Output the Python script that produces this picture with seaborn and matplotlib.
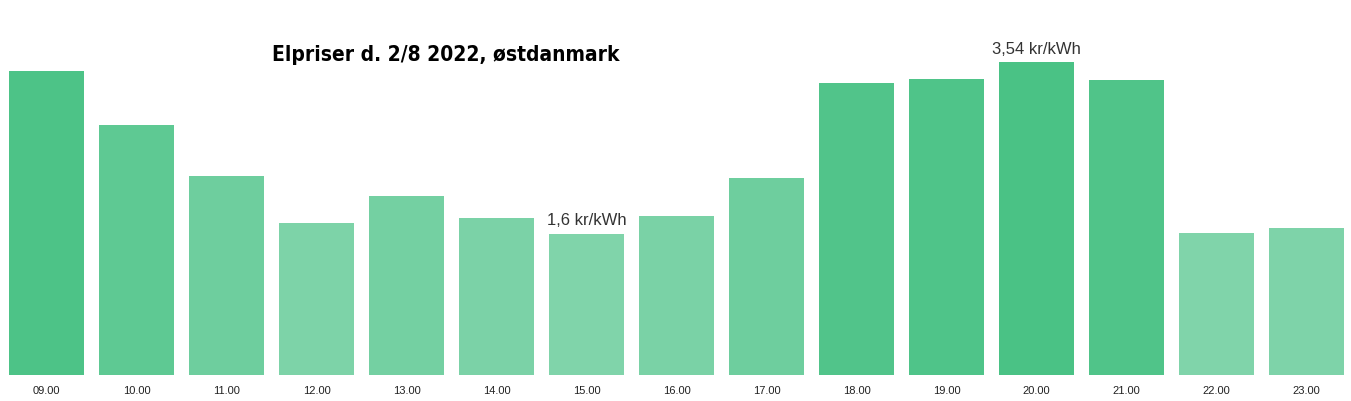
import numpy as np
import pandas as pd
import matplotlib.pyplot as plt
import matplotlib.colors as mcolors
import seaborn as sns

# Data
timer = ['09.00', '10.00', '11.00', '12.00', '13.00', '14.00', '15.00', '16.00',
         '17.00', '18.00', '19.00', '20.00', '21.00', '22.00', '23.00']
priser = [3.44, 2.83, 2.25, 1.72, 2.02, 1.78, 1.60, 1.80,
          2.23, 3.30, 3.35, 3.54, 3.34, 1.61, 1.66]

dados = pd.DataFrame({'time': timer, 'pris': priser})

# Farver: lys groen for lave priser, moerkere for hoeje
lys = np.array(mcolors.to_rgb('#80d4aa'))
moerk = np.array(mcolors.to_rgb('#4ac285'))
lo, hi = min(priser), max(priser)
farver = [mcolors.to_hex(lys + (p - lo) / (hi - lo) * (moerk - lys)) for p in priser]

sns.set_style('white')
fig = plt.figure(figsize=(13.51, 4.02), dpi=100)
ax = fig.add_axes([0.0011, 26 / 402, 0.9993, 353.6 / 402])

sns.barplot(data=dados, x='time', y='pris', hue='time', palette=farver,
            legend=False, width=0.833, saturation=1, linewidth=0, ax=ax)

ax.set_xlim(-0.5, 14.5)
ax.set_ylim(0, 4)
ax.set_xlabel('')
ax.set_ylabel('')
ax.set_yticks([])
ax.tick_params(axis='x', length=0, labelsize=8, labelcolor='#222222', pad=7)
for lbl in ax.get_xticklabels():
    lbl.set_family('Liberation Sans')
sns.despine(ax=ax, left=True, bottom=True)

# Etiketter for min og max
i_min = int(np.argmin(priser))
i_max = int(np.argmax(priser))
for i in (i_min, i_max):
    tekst = f"{priser[i]:g}".replace('.', ',') + ' kr/kWh'
    ax.text(i, priser[i] + 0.07, tekst, ha='center', va='bottom',
            fontsize=12, color='#333333', family='Liberation Sans')

fig.text(446 / 1351, 1 - 55 / 402, 'Elpriser d. 2/8 2022, østdanmark',
         ha='center', va='center', fontsize=15, fontweight='bold',
         fontstretch='condensed', family='DejaVu Sans', color='black')

plt.savefig('out.png', dpi=100)
